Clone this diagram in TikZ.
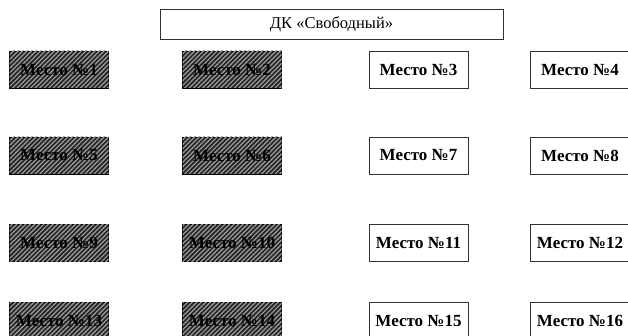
\documentclass[tikz,border=0pt]{standalone}
\usepackage{fontspec}
\setmainfont{Liberation Serif}
\usetikzlibrary{patterns.meta}

\tikzset{
  seat/.style={draw=black!80, line width=0.8pt, fill=white, minimum width=99pt, minimum height=37pt, inner sep=0pt, font=\fontsize{17}{20}\selectfont\bfseries},
  taken/.style={seat, draw=black, fill=black!85, postaction={pattern={Lines[angle=45, distance=3.2pt, line width=1.2pt]}, pattern color=gray!75}},
  hall/.style={draw=black!80, line width=0.8pt, minimum width=343pt, minimum height=30pt, inner sep=0pt, font=\fontsize{16.5}{19}\selectfont}
}

\begin{document}
\begin{tikzpicture}[x=1pt,y=-1pt]
  \clip (0,0) rectangle (628,336);

  % Hall
  \node[hall] (dk) at (331.5,24) {ДК «Свободный»};

  % Row 1
  \node[taken] (m1) at (59,69.5) {Место №1};
  \node[taken] (m2) at (232,69.5) {Место №2};
  \node[seat] (m3) at (418.5,69.5) {Место №3};
  \node[seat] (m4) at (580,69.5) {Место №4};

  % Row 2
  \node[taken] (m5) at (59,155.5) {Место №5};
  \node[taken] (m6) at (232,155.5) {Место №6};
  \node[seat] (m7) at (418.5,155.5) {Место №7};
  \node[seat] (m8) at (580,155.5) {Место №8};

  % Row 3
  \node[taken] (m9) at (59,243) {Место №9};
  \node[taken] (m10) at (232,243) {Место №10};
  \node[seat] (m11) at (418.5,243) {Место №11};
  \node[seat] (m12) at (580,243) {Место №12};

  % Row 4
  \node[taken] (m13) at (59,320.5) {Место №13};
  \node[taken] (m14) at (232,320.5) {Место №14};
  \node[seat] (m15) at (418.5,320.5) {Место №15};
  \node[seat] (m16) at (580,320.5) {Место №16};
\end{tikzpicture}
\end{document}
